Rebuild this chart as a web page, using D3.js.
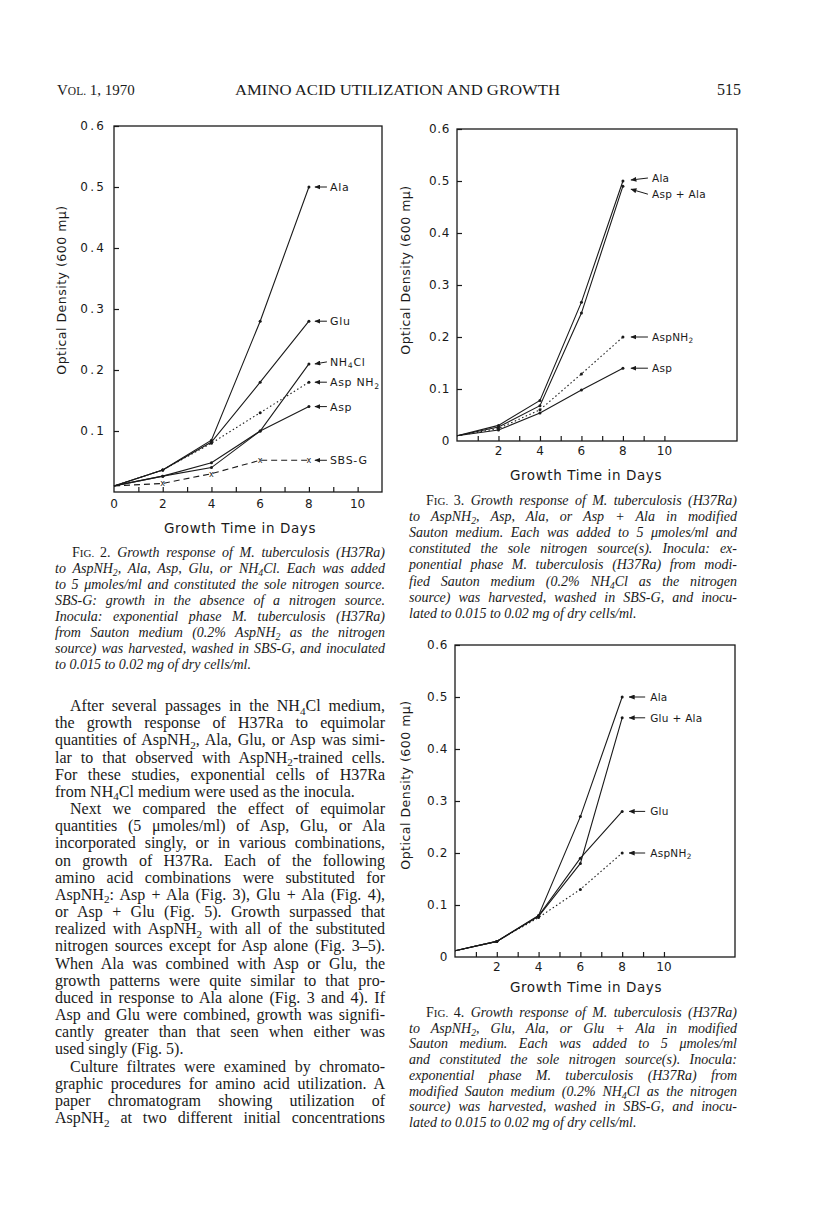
<!DOCTYPE html>
<html lang="en">
<head>
<meta charset="UTF-8">
<title>Amino Acid Utilization and Growth</title>
<script src="https://d3js.org/d3.v7.min.js"></script>
<style>
    body { margin: 0; background: #fff; }
    .serif { font-family: "Liberation Serif", "DejaVu Serif", serif; fill: #1a1a1a; }
    .letter { font-family: "DejaVu Sans", sans-serif; fill: #1a1a1a; }
</style>
</head>
<body>
<div id="page"></div>
<script>
// ---- data ----
const days = [0, 2, 4, 6, 8];

// Fig. 2
const fig2Names = ["Ala", "Glu", "NH~4~Cl", "Asp NH~2~", "Asp", "SBS-G"];
const fig2Ala    = [0.01, 0.036, 0.085, 0.28, 0.50];
const fig2Glu    = [0.01, 0.036, 0.082, 0.18, 0.28];
const fig2NH4Cl  = [0.01, 0.026, 0.040, 0.10, 0.21];
const fig2AspNH2 = [0.01, 0.036, 0.080, 0.13, 0.18];
const fig2Asp    = [0.01, 0.026, 0.048, 0.10, 0.14];
const fig2SBSG   = [0.01, 0.014, 0.030, 0.052, 0.052];

// Fig. 3
const fig3Names = ["Ala", "Asp + Ala", "AspNH~2~", "Asp"];
const fig3Ala    = [0.01, 0.030, 0.078, 0.267, 0.50];
const fig3AspAla = [0.01, 0.027, 0.068, 0.246, 0.49];
const fig3AspNH2 = [0.01, 0.024, 0.060, 0.129, 0.20];
const fig3Asp    = [0.01, 0.021, 0.054, 0.098, 0.14];

// Fig. 4
const fig4Names = ["Ala", "Glu + Ala", "Glu", "AspNH~2~"];
const fig4Ala    = [0.012, 0.030, 0.080, 0.27, 0.50];
const fig4GluAla = [0.012, 0.030, 0.078, 0.18, 0.46];
const fig4Glu    = [0.012, 0.030, 0.079, 0.19, 0.28];
const fig4AspNH2 = [0.012, 0.030, 0.076, 0.13, 0.20];

const yTicks = [0.1, 0.2, 0.3, 0.4, 0.5, 0.6];
const xLabels2 = [0, 2, 4, 6, 8, 10];
const xLabels34 = [2, 4, 6, 8, 10];

// ---- page text ----
const fig2Caption = [
    "Growth response of M. tuberculosis (H37Ra)",
    "to AspNH~2~, Ala, Asp, Glu, or NH~4~Cl. Each was added",
    "to 5 μmoles/ml and constituted the sole nitrogen source.",
    "SBS-G: growth in the absence of a nitrogen source.",
    "Inocula: exponential phase M. tuberculosis (H37Ra)",
    "from Sauton medium (0.2% AspNH~2~ as the nitrogen",
    "source) was harvested, washed in SBS-G, and inoculated",
    "to 0.015 to 0.02 mg of dry cells/ml."
];
const fig3Caption = [
    "Growth response of M. tuberculosis (H37Ra)",
    "to AspNH~2~, Asp, Ala, or Asp + Ala in modified",
    "Sauton medium. Each was added to 5 μmoles/ml and",
    "constituted the sole nitrogen source(s). Inocula: ex-",
    "ponential phase M. tuberculosis (H37Ra) from modi-",
    "fied Sauton medium (0.2% NH~4~Cl as the nitrogen",
    "source) was harvested, washed in SBS-G, and inocu-",
    "lated to 0.015 to 0.02 mg of dry cells/ml."
];
const fig4Caption = [
    "Growth response of M. tuberculosis (H37Ra)",
    "to AspNH~2~, Glu, Ala, or Glu + Ala in modified",
    "Sauton medium. Each was added to 5 μmoles/ml",
    "and constituted the sole nitrogen source(s). Inocula:",
    "exponential phase M. tuberculosis (H37Ra) from",
    "modified Sauton medium (0.2% NH~4~Cl as the nitrogen",
    "source) was harvested, washed in SBS-G, and inocu-",
    "lated to 0.015 to 0.02 mg of dry cells/ml."
];
const bodyLines = [
    "After several passages in the NH~4~Cl medium,",
    "the growth response of H37Ra to equimolar",
    "quantities of AspNH~2~, Ala, Glu, or Asp was simi-",
    "lar to that observed with AspNH~2~-trained cells.",
    "For these studies, exponential cells of H37Ra",
    "from NH~4~Cl medium were used as the inocula.",
    "Next we compared the effect of equimolar",
    "quantities (5 μmoles/ml) of Asp, Glu, or Ala",
    "incorporated singly, or in various combinations,",
    "on growth of H37Ra. Each of the following",
    "amino acid combinations were substituted for",
    "AspNH~2~: Asp + Ala (Fig. 3), Glu + Ala (Fig. 4),",
    "or Asp + Glu (Fig. 5). Growth surpassed that",
    "realized with AspNH~2~ with all of the substituted",
    "nitrogen sources except for Asp alone (Fig. 3–5).",
    "When Ala was combined with Asp or Glu, the",
    "growth patterns were quite similar to that pro-",
    "duced in response to Ala alone (Fig. 3 and 4). If",
    "Asp and Glu were combined, growth was signifi-",
    "cantly greater than that seen when either was",
    "used singly (Fig. 5).",
    "Culture filtrates were examined by chromato-",
    "graphic procedures for amino acid utilization. A",
    "paper chromatogram showing utilization of",
    "AspNH~2~ at two different initial concentrations"
];
const bodyIndent = [0, 6, 21];
const bodyLast = [5, 20];

const svg = d3.select("#page").append("svg")
    .attr("width", 816).attr("height", 1220);
svg.append("rect").attr("width", 816).attr("height", 1220).attr("fill", "#fff");

svg.append("defs").append("marker")
    .attr("id", "head")
    .attr("markerUnits", "userSpaceOnUse")
    .attr("markerWidth", 6).attr("markerHeight", 5)
    .attr("refX", 5.5).attr("refY", 2.5)
    .attr("orient", "auto")
    .append("path").attr("d", "M0,0 L6,2.5 L0,5 z").attr("fill", "#1a1a1a");

// text with ~n~ subscripts; the shift back is put on the next piece
function rich(sel, str, size) {
    let back = 0;
    str.split(/(~[^~]+~)/).filter(s => s.length).forEach(part => {
        if (part[0] === "~") {
            sel.append("tspan").attr("dy", back + size * 0.22).attr("font-size", size * 0.7)
                .text(part.slice(1, -1));
            back = -size * 0.22;
        } else {
            const ts = sel.append("tspan").text(part);
            if (back) ts.attr("dy", back);
            back = 0;
        }
    });
    return sel;
}

function justify(textSel, width) {
    const node = textSel.node();
    const natural = node.getComputedTextLength();
    const spaces = (textSel.text().match(/ /g) || []).length;
    if (spaces) textSel.attr("word-spacing", (width - natural) / spaces);
}

// ---- header ----
const head = svg.append("text").attr("class", "serif").attr("x", 57).attr("y", 95).attr("font-size", 15);
head.append("tspan").text("V");
head.append("tspan").attr("font-size", 11.5).text("OL.");
head.append("tspan").text(" 1, 1970");
svg.append("text").attr("class", "serif").attr("x", 235).attr("y", 95).attr("font-size", 15)
    .attr("textLength", 325).attr("lengthAdjust", "spacingAndGlyphs")
    .text("AMINO ACID UTILIZATION AND GROWTH");
svg.append("text").attr("class", "serif").attr("x", 717).attr("y", 95).attr("font-size", 16)
    .text("515");

// ---- figures ----
function drawFig(cfg) {
    const x = d3.scaleLinear().domain(cfg.xDomain).range(cfg.xRange);
    const y = d3.scaleLinear().domain([0, 0.6]).range(cfg.yRange);
    const g = svg.append("g");

    g.append("rect")
        .attr("x", cfg.xRange[0]).attr("y", cfg.yRange[1])
        .attr("width", cfg.xRange[1] - cfg.xRange[0])
        .attr("height", cfg.yRange[0] - cfg.yRange[1])
        .attr("fill", "none").attr("stroke", "#1a1a1a").attr("stroke-width", 1.3);

    // minor day ticks (inside) with labels every 2 days
    const xa = g.append("g").attr("transform", `translate(0,${cfg.yRange[0]})`)
        .call(d3.axisBottom(x).tickValues(d3.range(1, 11)).tickSize(-5).tickSizeOuter(0).tickFormat(""));
    xa.select(".domain").remove();
    xa.selectAll("line").attr("stroke", "#1a1a1a").attr("stroke-width", 1.2);

    g.selectAll(".xl").data(cfg.xLabels).join("text")
        .attr("class", "letter")
        .attr("x", d => x(d)).attr("y", cfg.yRange[0] + cfg.xLabelDy)
        .attr("text-anchor", "middle").attr("font-size", cfg.tickFont)
        .text(d => d);

    const ya = g.append("g").attr("transform", `translate(${cfg.xRange[0]},0)`)
        .call(d3.axisLeft(y).tickValues(yTicks).tickSize(-5).tickSizeOuter(0).tickFormat(""));
    ya.select(".domain").remove();
    ya.selectAll("line").attr("stroke", "#1a1a1a").attr("stroke-width", 1.2);

    g.selectAll(".yl").data(cfg.yLabels).join("text")
        .attr("class", "letter")
        .attr("x", cfg.xRange[0] - cfg.yLabelDx).attr("y", d => y(d) + 4)
        .attr("text-anchor", "end").attr("font-size", cfg.tickFont)
        .attr("letter-spacing", cfg.tickSpacing)
        .text(d => d === 0 ? "0" : d.toFixed(1));

    // axis titles
    g.append("text").attr("class", "letter")
        .attr("x", cfg.xTitle[0]).attr("y", cfg.xTitle[1])
        .attr("text-anchor", "middle").attr("font-size", 13.5).attr("letter-spacing", 0.6)
        .text("Growth Time in Days");
    g.append("text").attr("class", "letter")
        .attr("transform", `translate(${cfg.yTitle[0]},${cfg.yTitle[1]}) rotate(-90)`)
        .attr("text-anchor", "middle").attr("font-size", 12.5).attr("letter-spacing", 0.5)
        .text("Optical Density (600 mμ)");

    const line = d3.line().x((d, i) => x(days[i])).y(d => y(d));

    cfg.series.forEach((s, k) => {
        g.append("path").datum(s.values)
            .attr("d", line)
            .attr("fill", "none").attr("stroke", "#1a1a1a").attr("stroke-width", 1.1)
            .attr("stroke-dasharray", s.dash || null);

        if (s.cross) {
            g.selectAll(null).data(s.values.slice(1)).join("text")
                .attr("class", "letter")
                .attr("x", (d, i) => x(days[i + 1])).attr("y", d => y(d) + 3)
                .attr("text-anchor", "middle").attr("font-size", 8).text("x");
        } else {
            g.selectAll(null).data(s.values.slice(1)).join("circle")
                .attr("cx", (d, i) => x(days[i + 1])).attr("cy", d => y(d))
                .attr("r", 1.5).attr("fill", "#1a1a1a");
        }

        // arrow + label
        const last = s.values[s.values.length - 1];
        const px = x(days[days.length - 1]);
        const ty = y(last) + (s.labelDy || 0);
        const tipY = y(last) + (s.tipDy || 0);
        g.append("line")
            .attr("x1", px + cfg.arrow[1]).attr("y1", ty)
            .attr("x2", px + cfg.arrow[0]).attr("y2", tipY)
            .attr("stroke", "#1a1a1a").attr("stroke-width", 1)
            .attr("marker-end", "url(#head)");
        const t = g.append("text").attr("class", "letter")
            .attr("x", px + cfg.arrow[2]).attr("y", ty + 4)
            .attr("font-size", cfg.labelFont).attr("letter-spacing", cfg.labelSpacing);
        rich(t, cfg.names[k], cfg.labelFont);
    });
}

drawFig({
    xDomain: [0, 11], xRange: [114, 382], yRange: [492, 126],
    xLabels: xLabels2, yLabels: yTicks, xLabelDy: 16, yLabelDx: 8,
    tickFont: 12, tickSpacing: 2.2,
    xTitle: [240, 533], yTitle: [66, 290],
    arrow: [6, 18, 21], labelFont: 11, labelSpacing: 0.7,
    names: fig2Names,
    series: [
        { values: fig2Ala },
        { values: fig2Glu },
        { values: fig2NH4Cl, labelDy: -2 },
        { values: fig2AspNH2, dash: "1.5,2.5" },
        { values: fig2Asp },
        { values: fig2SBSG, dash: "6,4", cross: true }
    ]
});

drawFig({
    xDomain: [0, 13.5], xRange: [457, 737], yRange: [441, 129],
    xLabels: xLabels34, yLabels: [0].concat(yTicks), xLabelDy: 14, yLabelDx: 7,
    tickFont: 12, tickSpacing: 0.6,
    xTitle: [586, 480], yTitle: [410, 270],
    arrow: [8, 25, 29], labelFont: 10.5, labelSpacing: 0.3,
    names: fig3Names,
    series: [
        { values: fig3Ala, labelDy: -3, tipDy: -1 },
        { values: fig3AspAla, labelDy: 8, tipDy: 3 },
        { values: fig3AspNH2, dash: "1.5,2.5" },
        { values: fig3Asp }
    ]
});

drawFig({
    xDomain: [0, 13.4], xRange: [455, 735], yRange: [957, 645],
    xLabels: xLabels34, yLabels: [0].concat(yTicks), xLabelDy: 14, yLabelDx: 7,
    tickFont: 12, tickSpacing: 0.6,
    xTitle: [586, 992], yTitle: [410, 785],
    arrow: [7, 23, 28], labelFont: 10.5, labelSpacing: 0.3,
    names: fig4Names,
    series: [
        { values: fig4Ala },
        { values: fig4GluAla },
        { values: fig4Glu },
        { values: fig4AspNH2, dash: "1.5,2.5" }
    ]
});

// ---- captions ----
function caption(lines, num, x0, x1, yFirst, step) {
    lines.forEach((ln, i) => {
        const t = svg.append("text").attr("class", "serif")
            .attr("x", i === 0 ? x0 + 17 : x0).attr("y", yFirst + i * step)
            .attr("font-size", 14);
        if (i === 0) {
            t.append("tspan").attr("font-style", "normal").text("F");
            t.append("tspan").attr("font-size", 11).text("IG. ");
            t.append("tspan").text(num + ". ");
        }
        const it = t.append("tspan").attr("font-style", "italic");
        rich(it, ln, 14);
        if (i < lines.length - 1) justify(t, x1 - (i === 0 ? x0 + 17 : x0));
    });
}
caption(fig2Caption, 2, 55, 385, 557, 16);
caption(fig3Caption, 3, 409, 737, 505, 16.1);
caption(fig4Caption, 4, 409, 737, 1017, 15.7);

// ---- body text ----
bodyLines.forEach((ln, i) => {
    const ind = bodyIndent.includes(i) ? 15 : 0;
    const t = svg.append("text").attr("class", "serif")
        .attr("x", 55 + ind).attr("y", 711 + i * 17.17)
        .attr("font-size", 16);
    rich(t, ln, 16);
    if (!bodyLast.includes(i)) justify(t, 330 - ind);
});
</script>
</body>
</html>
